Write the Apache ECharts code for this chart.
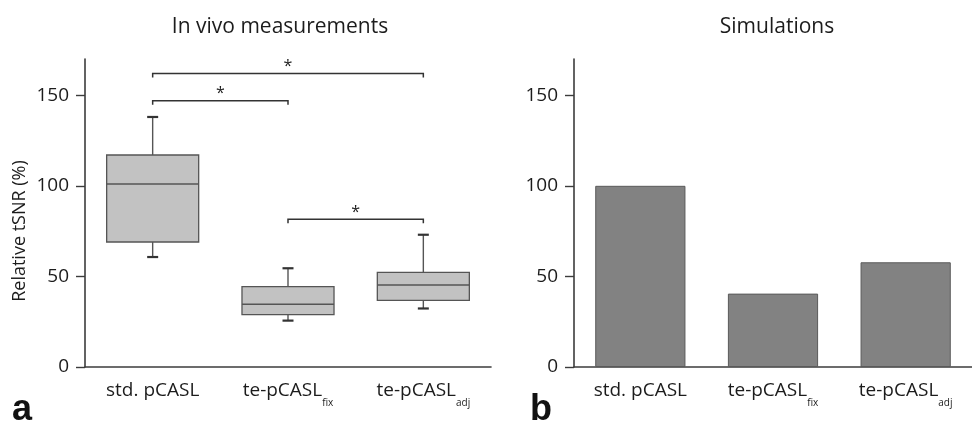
<!DOCTYPE html>
<html>
<head>
<meta charset="utf-8">
<script src="https://cdn.jsdelivr.net/npm/echarts@6/dist/echarts.min.js"></script>
<style>
  html, body { margin: 0; padding: 0; background: #fff; }
  #chart { width: 972px; height: 429px; }
</style>
</head>
<body>
<div id="chart"></div>
<script>
// Sequence names (rich-text keys: m = main, s = subscript)
const categories = ['std. pCASL', 'te-pCASL|fix', 'te-pCASL|adj'];

// In vivo relative tSNR (%): box-plot statistics per sequence
const boxMin    = [60.7, 25.6, 32.3];
const boxQ1     = [69.0, 28.9, 36.8];
const boxMedian = [101.0, 34.6, 45.3];
const boxQ3     = [117.0, 44.4, 52.2];
const boxMax    = [138.0, 54.5, 73.0];

// Significance brackets: from category, to category, height (%)
const bracketFrom = [0, 0, 1];
const bracketTo   = [1, 2, 2];
const bracketY    = [147, 162, 81.5];
const bracketMark = ['*', '*', '*'];

// Simulated relative tSNR (%)
const simValues = [100, 40.5, 57.8];

// Y-axis range and tick values
const yMin = 0, yMax = 170, yStep = 50;
const yTicks = [0, 50, 100, 150];

const FONT = 'Open Sans';
const INK = '#1c1c1c';
const AXIS = '#3c3c3c';

const boxData = categories.map((_, i) => [i, boxMin[i], boxQ1[i], boxMedian[i], boxQ3[i], boxMax[i]]);
const bracketData = bracketFrom.map((f, i) => [f, bracketTo[i], bracketY[i], bracketMark[i]]);

function formatCategory(v) {
  const parts = v.split('|');
  return parts.length > 1 ? '{m|' + parts[0] + '}{s|' + parts[1] + '}' : '{m|' + v + '}';
}

function xAxisCfg(gridIndex) {
  return {
    type: 'category', gridIndex: gridIndex, data: categories,
    axisLine: { lineStyle: { color: AXIS, width: 1.6 } },
    axisTick: { show: false },
    axisLabel: {
      margin: 7, formatter: formatCategory, interval: 0,
      rich: {
        m: { fontFamily: FONT, fontSize: 19, color: INK, lineHeight: 34 },
        s: { fontFamily: FONT, fontSize: 10, color: INK, lineHeight: 10, padding: [24, 0, 0, 0] }
      }
    }
  };
}

function yAxisCfg(gridIndex) {
  return {
    type: 'value', gridIndex: gridIndex, min: yMin, max: yMax, interval: yStep,
    splitLine: { show: false },
    axisLine: { show: true, lineStyle: { color: AXIS, width: 1.6 } },
    axisTick: { show: true, inside: false, length: 9, customValues: yTicks, lineStyle: { color: AXIS, width: 1.4 } },
    axisLabel: { margin: 16, customValues: yTicks, fontFamily: FONT, fontSize: 19, color: INK }
  };
}

function renderBox(params, api) {
  const i = api.value(0);
  const lo = api.coord([i, api.value(1)]);
  const q1 = api.coord([i, api.value(2)]);
  const md = api.coord([i, api.value(3)]);
  const q3 = api.coord([i, api.value(4)]);
  const hi = api.coord([i, api.value(5)]);
  const band = api.size([1, 0])[0];
  const w = band * 0.68;
  const cx = q1[0];
  const cap = 11;
  const stroke = '#555';
  return {
    type: 'group',
    children: [
      { type: 'line', shape: { x1: cx, y1: hi[1], x2: cx, y2: q3[1] }, style: { stroke: stroke, lineWidth: 1.4 } },
      { type: 'line', shape: { x1: cx, y1: q1[1], x2: cx, y2: lo[1] }, style: { stroke: stroke, lineWidth: 1.4 } },
      { type: 'line', shape: { x1: cx - cap / 2, y1: hi[1], x2: cx + cap / 2, y2: hi[1] }, style: { stroke: '#333', lineWidth: 2.2 } },
      { type: 'line', shape: { x1: cx - cap / 2, y1: lo[1], x2: cx + cap / 2, y2: lo[1] }, style: { stroke: '#333', lineWidth: 2.2 } },
      { type: 'rect', shape: { x: cx - w / 2, y: q3[1], width: w, height: q1[1] - q3[1] }, style: { fill: '#c2c2c2', stroke: stroke, lineWidth: 1.3 } },
      { type: 'line', shape: { x1: cx - w / 2, y1: md[1], x2: cx + w / 2, y2: md[1] }, style: { stroke: stroke, lineWidth: 1.4 } }
    ]
  };
}

function renderBracket(params, api) {
  const a = api.coord([api.value(0), api.value(2)]);
  const b = api.coord([api.value(1), api.value(2)]);
  const drop = 4;
  return {
    type: 'group',
    children: [
      { type: 'polyline', shape: { points: [[a[0], a[1] + drop], [a[0], a[1]], [b[0], b[1]], [b[0], b[1] + drop]] },
        style: { stroke: '#333', lineWidth: 1.5, fill: null } },
      { type: 'text', x: (a[0] + b[0]) / 2, y: a[1] - 7,
        style: { text: bracketMark[params.dataIndex], fontFamily: FONT, fontSize: 16, fill: INK, align: 'center', verticalAlign: 'middle' } }
    ]
  };
}

const chart = echarts.init(document.getElementById('chart'), null, { renderer: 'canvas' });
chart.setOption({
  animation: false,
  backgroundColor: '#fff',
  title: [
    { text: 'In vivo measurements', left: 275, top: 12, textAlign: 'center',
      textStyle: { fontFamily: FONT, fontSize: 21, fontWeight: 'normal', color: INK } },
    { text: 'Simulations', left: 772, top: 12, textAlign: 'center',
      textStyle: { fontFamily: FONT, fontSize: 21, fontWeight: 'normal', color: INK } }
  ],
  grid: [
    { left: 85, top: 59, width: 406, bottom: 62 },
    { left: 574, top: 59, width: 406, bottom: 62 }
  ],
  xAxis: [xAxisCfg(0), xAxisCfg(1)],
  yAxis: [yAxisCfg(0), yAxisCfg(1)],
  series: [
    { type: 'custom', xAxisIndex: 0, yAxisIndex: 0, data: boxData, renderItem: renderBox,
      encode: { x: 0, y: [1, 2, 3, 4, 5] }, silent: true },
    { type: 'custom', xAxisIndex: 0, yAxisIndex: 0, data: bracketData, renderItem: renderBracket,
      encode: { x: [0, 1], y: 2 }, silent: true },
    { type: 'bar', xAxisIndex: 1, yAxisIndex: 1, data: simValues, barWidth: '68%',
      itemStyle: { color: '#828282', borderColor: '#5a5a5a', borderWidth: 1 }, silent: true }
  ],
  graphic: [
    { type: 'text', x: 20, y: 231, rotation: Math.PI / 2,
      style: { text: 'Relative tSNR (%)', fontFamily: FONT, fontSize: 18, fill: INK, align: 'center', verticalAlign: 'middle' } },
    { type: 'text', left: 12, top: 392,
      style: { text: 'a', fontFamily: 'Liberation Sans', fontWeight: 'bold', fontSize: 36, fill: '#111' } },
    { type: 'text', left: 530, top: 392,
      style: { text: 'b', fontFamily: 'Liberation Sans', fontWeight: 'bold', fontSize: 36, fill: '#111' } }
  ]
});
</script>
</body>
</html>
